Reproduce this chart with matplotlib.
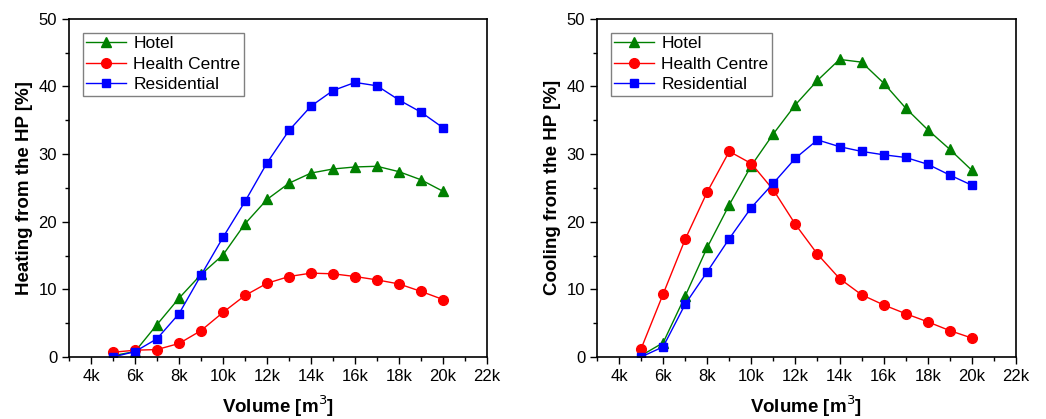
import matplotlib.pyplot as plt
from matplotlib.ticker import MultipleLocator, FuncFormatter

plt.rcParams['font.family'] = ['Liberation Sans', 'DejaVu Sans']

volume = [5000, 6000, 7000, 8000, 9000, 10000, 11000, 12000, 13000, 14000,
          15000, 16000, 17000, 18000, 19000, 20000]

heat_hotel = [0.2, 0.8, 4.8, 8.7, 12.2, 15.1, 19.7, 23.3, 25.7, 27.2,
              27.8, 28.1, 28.2, 27.4, 26.2, 24.5]
heat_health = [0.7, 1.0, 1.1, 2.0, 3.9, 6.6, 9.1, 10.9, 11.9, 12.4,
               12.3, 11.9, 11.4, 10.8, 9.7, 8.5]
heat_resid = [0.0, 0.8, 2.7, 6.4, 12.1, 17.7, 23.0, 28.7, 33.5, 37.1,
              39.4, 40.6, 40.1, 38.0, 36.2, 33.9]

cool_hotel = [0.2, 2.1, 9.0, 16.2, 22.5, 28.3, 33.0, 37.3, 40.9, 44.0,
              43.6, 40.5, 36.8, 33.6, 30.7, 27.6]
cool_health = [1.2, 9.3, 17.4, 24.4, 30.4, 28.6, 24.7, 19.6, 15.2, 11.6,
               9.2, 7.7, 6.4, 5.2, 3.9, 2.8]
cool_resid = [0.0, 1.5, 7.8, 12.6, 17.5, 22.1, 25.7, 29.4, 32.1, 31.1,
              30.4, 29.9, 29.5, 28.5, 26.9, 25.4]

fig = plt.figure(figsize=(10.46, 4.19), dpi=100)
ax1 = fig.add_axes([0.066, 0.148, 0.3996, 0.807])
ax2 = fig.add_axes([0.5707, 0.148, 0.4006, 0.807])

panels = [
    (ax1, heat_hotel, heat_health, heat_resid, "Heating from the HP [%]"),
    (ax2, cool_hotel, cool_health, cool_resid, "Cooling from the HP [%]"),
]

for ax, hotel, health, resid, ylabel in panels:
    ax.plot(volume, hotel, "^-", color="#008000", lw=1, ms=7, label="Hotel")
    ax.plot(volume, health, "o-", color="#ff0000", lw=1, ms=7, label="Health Centre")
    ax.plot(volume, resid, "s-", color="#0000ff", lw=1, ms=6, label="Residential")
    ax.set_xlim(3000, 22000)
    ax.set_ylim(0, 50)
    ax.xaxis.set_major_locator(MultipleLocator(2000))
    ax.xaxis.set_minor_locator(MultipleLocator(1000))
    ax.yaxis.set_major_locator(MultipleLocator(10))
    ax.yaxis.set_minor_locator(MultipleLocator(5))
    ax.xaxis.set_major_formatter(FuncFormatter(lambda v, p: "%dk" % (v / 1000)))
    ax.tick_params(which="major", direction="out", length=5, width=1, labelsize=12)
    ax.tick_params(which="minor", direction="out", length=3, width=1)
    for s in ax.spines.values():
        s.set_linewidth(1.2)
    ax.set_xlabel("Volume [m$^3$]", fontsize=13.5, fontweight="bold", labelpad=7)
    ax.set_ylabel(ylabel, fontsize=13.5, fontweight="bold")
    leg = ax.legend(loc="upper left", fontsize=12.5, fancybox=False, framealpha=1,
                    edgecolor="gray", borderaxespad=0.8, handlelength=2.3,
                    labelspacing=0.3, borderpad=0.2, handletextpad=0.4)
    leg.get_frame().set_linewidth(1)

fig.savefig("out.png", dpi=100)
